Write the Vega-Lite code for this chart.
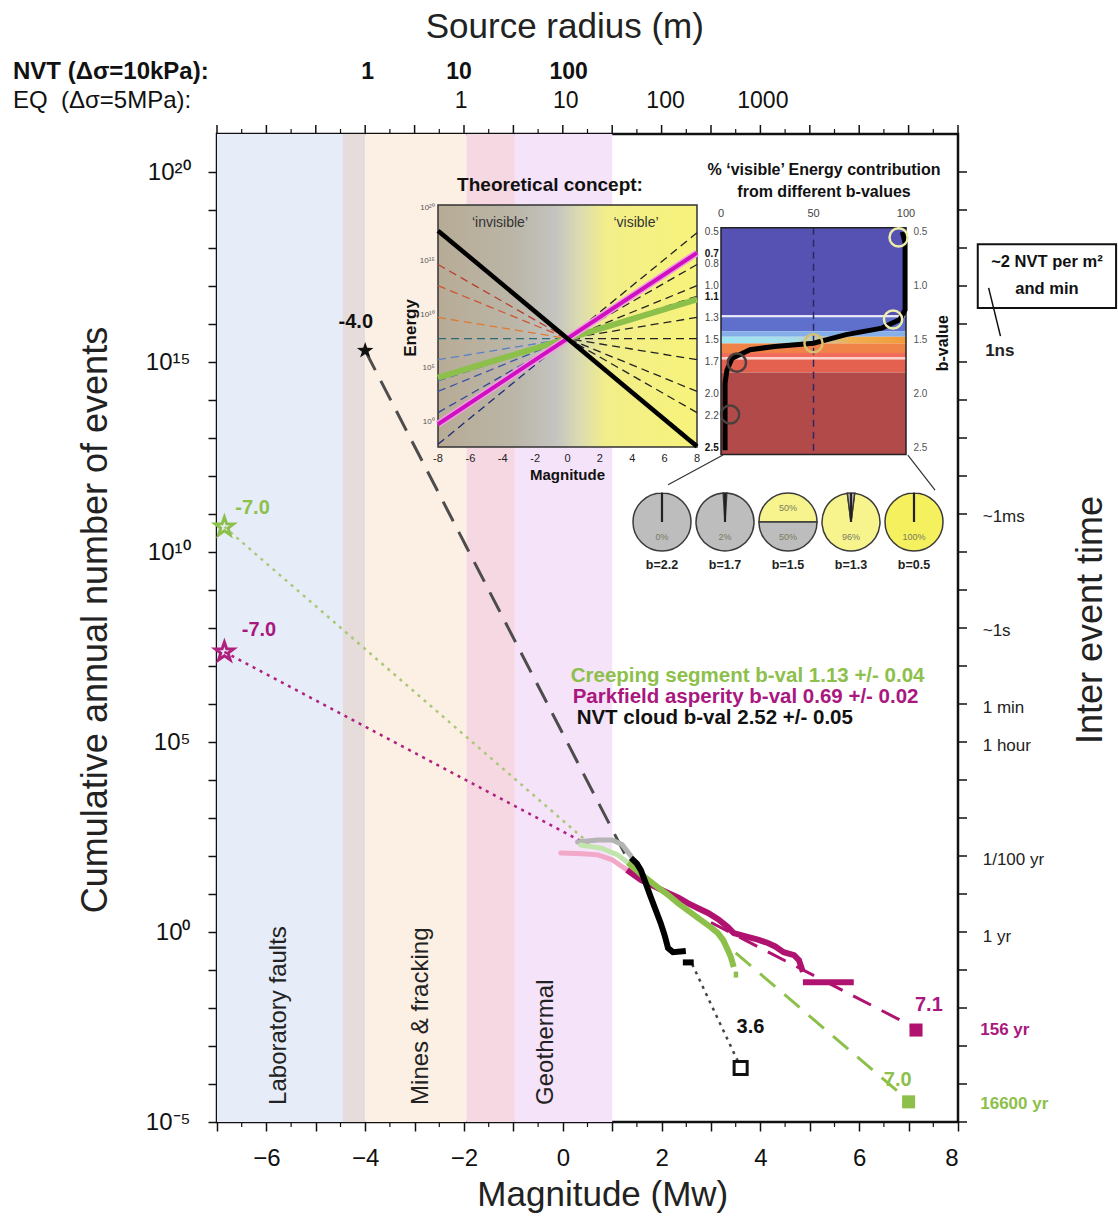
{
"$schema":"https://vega.github.io/schema/vega-lite/v6.json",
"width":741,"height":988,
"autosize":{"type":"none"},
"padding":{"left":217,"top":134,"right":160,"bottom":97},
"background":"white",
"config":{"view":{"stroke":"#111","strokeWidth":2.5},"font":"Liberation Sans","axis":{"grid":false,"domain":false,"tickColor":"#111","labelColor":"#111","titleColor":"#111"}},
"resolve":{"scale":{"x":"independent","y":"independent","color":"independent"},"axis":{"x":"independent","y":"independent"}},
"layer":[
{"data":{"values":[{"zone":"lab","x0":-7,"x1":-4.45},{"zone":"gap","x0":-4.45,"x1":-4.0},{"zone":"mines","x0":-4.0,"x1":-1.95},{"zone":"pink","x0":-1.95,"x1":-0.97},{"zone":"geo","x0":-0.97,"x1":1.0}]},
"mark":{"type":"rect"},
"encoding":{
"x":{"field":"x0","type":"quantitative","scale":{"domain":[-7,8],"nice":false,"zero":false},"axis":{"orient":"bottom","values":[-7,-6,-5,-4,-3,-2,-1,0,1,2,3,4,5,6,7,8],"labelExpr":"abs(datum.value) % 2 == 0 ? datum.label : ''","tickSize":9,"tickWidth":1.5,"labelFontSize":24,"labelPadding":15,"title":null}},
"x2":{"field":"x1"},
"color":{"field":"zone","type":"nominal","scale":{"domain":["lab","gap","mines","pink","geo"],"range":["#e6edf8","#e6dcdc","#fcefe3","#f6d8e2","#f5e3f9"]},"legend":null}}},
{"data":{"values":[{"x":-5.75,"y":-4.55,"t":"Laboratory faults"},{"x":-2.87,"y":-4.55,"t":"Mines & fracking"},{"x":-0.34,"y":-4.55,"t":"Geothermal"}]},
"mark":{"type":"text","angle":270,"align":"left","baseline":"middle","fontSize":24,"color":"#222"},
"encoding":{
"x":{"field":"x","type":"quantitative","scale":{"domain":[-7,8],"nice":false,"zero":false},"axis":null},
"y":{"field":"y","type":"quantitative","scale":{"domain":[-5,21],"nice":false,"zero":false},"axis":{"orient":"left","values":[-5,-4,-3,-2,-1,0,1,2,3,4,5,6,7,8,9,10,11,12,13,14,15,16,17,18,19,20],"labelExpr":"datum.value == 20 ? '10²⁰' : datum.value == 15 ? '10¹⁵' : datum.value == 10 ? '10¹⁰' : datum.value == 5 ? '10⁵' : datum.value == 0 ? '10⁰' : datum.value == -5 ? '10⁻⁵' : ''","tickSize":9,"tickWidth":1.5,"labelFontSize":24,"labelPadding":18,"title":null}},
"text":{"field":"t"}}},
{"data":{"values":[{"x":-6.5,"y":-5},{"x":-5.5,"y":-5},{"x":-4.5,"y":-5},{"x":-3.5,"y":-5},{"x":-2.5,"y":-5},{"x":-1.5,"y":-5},{"x":-0.5,"y":-5},{"x":0.5,"y":-5},{"x":1.5,"y":-5},{"x":2.5,"y":-5},{"x":3.5,"y":-5},{"x":4.5,"y":-5},{"x":5.5,"y":-5},{"x":6.5,"y":-5},{"x":7.5,"y":-5}]},
"mark":{"type":"point","shape":"M0,0L0,1","size":100,"filled":false,"strokeWidth":1.2,"color":"#111","opacity":1},
"encoding":{"x":{"field":"x","type":"quantitative","scale":{"domain":[-7,8],"nice":false,"zero":false},"axis":null},"y":{"field":"y","type":"quantitative","scale":{"domain":[-5,21],"nice":false,"zero":false},"axis":null}}},
{"data":{"values":[{"x":-7,"y":21},{"x":-6,"y":21},{"x":-5,"y":21},{"x":-4,"y":21},{"x":-3,"y":21},{"x":-2,"y":21},{"x":-1,"y":21},{"x":0,"y":21},{"x":1,"y":21},{"x":2,"y":21},{"x":3,"y":21},{"x":4,"y":21},{"x":5,"y":21},{"x":6,"y":21},{"x":7,"y":21},{"x":8,"y":21}]},
"mark":{"type":"point","shape":"M0,0L0,-1","size":324,"filled":false,"strokeWidth":1.5,"color":"#111","opacity":1},
"encoding":{"x":{"field":"x","type":"quantitative","scale":{"domain":[-7,8],"nice":false,"zero":false},"axis":null},"y":{"field":"y","type":"quantitative","scale":{"domain":[-5,21],"nice":false,"zero":false},"axis":null}}},
{"data":{"values":[{"x":-6.5,"y":21},{"x":-5.5,"y":21},{"x":-4.5,"y":21},{"x":-3.5,"y":21},{"x":-2.5,"y":21},{"x":-1.5,"y":21},{"x":-0.5,"y":21},{"x":0.5,"y":21},{"x":1.5,"y":21},{"x":2.5,"y":21},{"x":3.5,"y":21},{"x":4.5,"y":21},{"x":5.5,"y":21},{"x":6.5,"y":21},{"x":7.5,"y":21}]},
"mark":{"type":"point","shape":"M0,0L0,-1","size":100,"filled":false,"strokeWidth":1.2,"color":"#111","opacity":1},
"encoding":{"x":{"field":"x","type":"quantitative","scale":{"domain":[-7,8],"nice":false,"zero":false},"axis":null},"y":{"field":"y","type":"quantitative","scale":{"domain":[-5,21],"nice":false,"zero":false},"axis":null}}},
{"data":{"values":[{"x":8,"y":-5},{"x":8,"y":-4},{"x":8,"y":-3},{"x":8,"y":-2},{"x":8,"y":-1},{"x":8,"y":0},{"x":8,"y":1},{"x":8,"y":2},{"x":8,"y":3},{"x":8,"y":4},{"x":8,"y":5},{"x":8,"y":6},{"x":8,"y":7},{"x":8,"y":8},{"x":8,"y":9},{"x":8,"y":10},{"x":8,"y":11},{"x":8,"y":12},{"x":8,"y":13},{"x":8,"y":14},{"x":8,"y":15},{"x":8,"y":16},{"x":8,"y":17},{"x":8,"y":18},{"x":8,"y":19},{"x":8,"y":20}]},
"mark":{"type":"point","shape":"M0,0L1,0","size":324,"filled":false,"strokeWidth":1.5,"color":"#111","opacity":1},
"encoding":{"x":{"field":"x","type":"quantitative","scale":{"domain":[-7,8],"nice":false,"zero":false},"axis":null},"y":{"field":"y","type":"quantitative","scale":{"domain":[-5,21],"nice":false,"zero":false},"axis":null}}},
{"data":{"values":[{"x":-4.0,"y":15.3,"x2":1.4,"y2":1.69}]},
"mark":{"type":"rule","color":"#4d4d4d","strokeWidth":3,"strokeDash":[22,12]},
"encoding":{"x":{"field":"x","type":"quantitative","scale":{"domain":[-7,8],"nice":false,"zero":false},"axis":null},"y":{"field":"y","type":"quantitative","scale":{"domain":[-5,21],"nice":false,"zero":false},"axis":null},"x2":{"field":"x2"},"y2":{"field":"y2"}}},
{"data":{"values":[{"s":"grn","x":-6.85,"y":10.66,"x2":0.57,"y2":2.29},{"s":"mag","x":-6.85,"y":7.37,"x2":0.5,"y2":2.3},{"s":"blk","x":2.62,"y":-0.85,"x2":3.55,"y2":-3.42}]},
"mark":{"type":"rule","strokeWidth":2.5,"strokeDash":[3,5]},
"encoding":{"x":{"field":"x","type":"quantitative","scale":{"domain":[-7,8],"nice":false,"zero":false},"axis":null},"y":{"field":"y","type":"quantitative","scale":{"domain":[-5,21],"nice":false,"zero":false},"axis":null},"x2":{"field":"x2"},"y2":{"field":"y2"},
"color":{"field":"s","type":"nominal","scale":{"domain":["grn","mag","blk"],"range":["#a9c878","#b0207e","#444444"]},"legend":null}}},
{"data":{"values":[{"s":"mag","x":3.0,"y":0.25,"x2":7.1,"y2":-2.5},{"s":"grn","x":3.5,"y":-0.55,"x2":6.92,"y2":-4.35}]},
"mark":{"type":"rule","strokeWidth":3,"strokeDash":[20,12]},
"encoding":{"x":{"field":"x","type":"quantitative","scale":{"domain":[-7,8],"nice":false,"zero":false},"axis":null},"y":{"field":"y","type":"quantitative","scale":{"domain":[-5,21],"nice":false,"zero":false},"axis":null},"x2":{"field":"x2"},"y2":{"field":"y2"},
"color":{"field":"s","type":"nominal","scale":{"domain":["mag","grn"],"range":["#b0126f","#8dc04b"]},"legend":null}}},
{"data":{"values":[{"i":1,"x":0.3,"y":2.37},{"i":2,"x":0.7,"y":2.42},{"i":3,"x":1.0,"y":2.42},{"i":4,"x":1.2,"y":2.3},{"i":5,"x":1.38,"y":2.0}]},
"mark":{"type":"line","strokeWidth":5,"strokeCap":"round","color":"#b4b4b4"},
"encoding":{"x":{"field":"x","type":"quantitative","scale":{"domain":[-7,8],"nice":false,"zero":false},"axis":null},"y":{"field":"y","type":"quantitative","scale":{"domain":[-5,21],"nice":false,"zero":false},"axis":null},"order":{"field":"i"}}},
{"data":{"values":[{"i":1,"x":-0.04,"y":2.08},{"i":2,"x":0.4,"y":2.06},{"i":3,"x":0.71,"y":2.03},{"i":4,"x":1.0,"y":1.9},{"i":5,"x":1.3,"y":1.63}]},
"mark":{"type":"line","strokeWidth":5,"strokeCap":"round","color":"#f2a8c8"},
"encoding":{"x":{"field":"x","type":"quantitative","scale":{"domain":[-7,8],"nice":false,"zero":false},"axis":null},"y":{"field":"y","type":"quantitative","scale":{"domain":[-5,21],"nice":false,"zero":false},"axis":null},"order":{"field":"i"}}},
{"data":{"values":[{"i":1,"x":0.36,"y":2.29},{"i":2,"x":0.8,"y":2.2},{"i":3,"x":1.11,"y":2.03},{"i":4,"x":1.32,"y":1.82}]},
"mark":{"type":"line","strokeWidth":5,"strokeCap":"round","color":"#c2e4ad"},
"encoding":{"x":{"field":"x","type":"quantitative","scale":{"domain":[-7,8],"nice":false,"zero":false},"axis":null},"y":{"field":"y","type":"quantitative","scale":{"domain":[-5,21],"nice":false,"zero":false},"axis":null},"order":{"field":"i"}}},
{"data":{"values":[{"i":1,"x":1.3,"y":1.63},{"i":2,"x":1.58,"y":1.37},{"i":3,"x":1.85,"y":1.2},{"i":4,"x":2.13,"y":1.03},{"i":5,"x":2.35,"y":0.9},{"i":6,"x":2.53,"y":0.76},{"i":7,"x":2.75,"y":0.62},{"i":8,"x":2.94,"y":0.5},{"i":9,"x":3.15,"y":0.33},{"i":10,"x":3.34,"y":0.13},{"i":11,"x":3.46,"y":-0.03},{"i":12,"x":3.74,"y":-0.13},{"i":13,"x":3.95,"y":-0.2},{"i":14,"x":4.15,"y":-0.29},{"i":15,"x":4.3,"y":-0.38},{"i":16,"x":4.47,"y":-0.53},{"i":17,"x":4.68,"y":-0.61},{"i":18,"x":4.78,"y":-0.74},{"i":19,"x":4.86,"y":-1.05}]},
"mark":{"type":"line","strokeWidth":6,"color":"#b0126f"},
"encoding":{"x":{"field":"x","type":"quantitative","scale":{"domain":[-7,8],"nice":false,"zero":false},"axis":null},"y":{"field":"y","type":"quantitative","scale":{"domain":[-5,21],"nice":false,"zero":false},"axis":null},"order":{"field":"i"}}},
{"data":{"values":[{"x":4.86,"y":-1.32,"x2":5.89,"y2":-1.32}]},
"mark":{"type":"rule","strokeWidth":6,"color":"#b0126f"},
"encoding":{"x":{"field":"x","type":"quantitative","scale":{"domain":[-7,8],"nice":false,"zero":false},"axis":null},"y":{"field":"y","type":"quantitative","scale":{"domain":[-5,21],"nice":false,"zero":false},"axis":null},"x2":{"field":"x2"},"y2":{"field":"y2"}}},
{"data":{"values":[{"i":1,"x":1.32,"y":1.82},{"i":2,"x":1.6,"y":1.5},{"i":3,"x":1.92,"y":1.18},{"i":4,"x":2.13,"y":0.98},{"i":5,"x":2.33,"y":0.76},{"i":6,"x":2.55,"y":0.55},{"i":7,"x":2.79,"y":0.32},{"i":8,"x":3.0,"y":0.12},{"i":9,"x":3.14,"y":-0.03},{"i":10,"x":3.25,"y":-0.22},{"i":11,"x":3.34,"y":-0.47},{"i":12,"x":3.4,"y":-0.65},{"i":13,"x":3.46,"y":-0.92}]},
"mark":{"type":"line","strokeWidth":6,"color":"#8dc04b"},
"encoding":{"x":{"field":"x","type":"quantitative","scale":{"domain":[-7,8],"nice":false,"zero":false},"axis":null},"y":{"field":"y","type":"quantitative","scale":{"domain":[-5,21],"nice":false,"zero":false},"axis":null},"order":{"field":"i"}}},
{"data":{"values":[{"x":3.46,"y":-1.12,"x2":3.55,"y2":-1.12}]},
"mark":{"type":"rule","strokeWidth":6,"color":"#8dc04b"},
"encoding":{"x":{"field":"x","type":"quantitative","scale":{"domain":[-7,8],"nice":false,"zero":false},"axis":null},"y":{"field":"y","type":"quantitative","scale":{"domain":[-5,21],"nice":false,"zero":false},"axis":null},"x2":{"field":"x2"},"y2":{"field":"y2"}}},
{"data":{"values":[{"i":1,"x":1.38,"y":1.95},{"i":2,"x":1.5,"y":1.8},{"i":3,"x":1.58,"y":1.63},{"i":4,"x":1.68,"y":1.28},{"i":5,"x":1.78,"y":0.92},{"i":6,"x":1.88,"y":0.58},{"i":7,"x":1.98,"y":0.24},{"i":8,"x":2.06,"y":-0.08},{"i":9,"x":2.13,"y":-0.42},{"i":10,"x":2.23,"y":-0.53},{"i":11,"x":2.49,"y":-0.5}]},
"mark":{"type":"line","strokeWidth":6,"color":"#000"},
"encoding":{"x":{"field":"x","type":"quantitative","scale":{"domain":[-7,8],"nice":false,"zero":false},"axis":null},"y":{"field":"y","type":"quantitative","scale":{"domain":[-5,21],"nice":false,"zero":false},"axis":null},"order":{"field":"i"}}},
{"data":{"values":[{"x":2.43,"y":-0.8,"x2":2.65,"y2":-0.8}]},
"mark":{"type":"rule","strokeWidth":6,"color":"#000"},
"encoding":{"x":{"field":"x","type":"quantitative","scale":{"domain":[-7,8],"nice":false,"zero":false},"axis":null},"y":{"field":"y","type":"quantitative","scale":{"domain":[-5,21],"nice":false,"zero":false},"axis":null},"x2":{"field":"x2"},"y2":{"field":"y2"}}},
{"data":{"values":[{"x":-4.0,"y":15.3}]},
"mark":{"type":"point","shape":"M0,-1L0.235,-0.324L0.951,-0.309L0.38,0.124L0.588,0.809L0,0.4L-0.588,0.809L-0.38,0.124L-0.951,-0.309L-0.235,-0.324Z","filled":true,"color":"#111","size":300,"opacity":1},
"encoding":{"x":{"field":"x","type":"quantitative","scale":{"domain":[-7,8],"nice":false,"zero":false},"axis":null},"y":{"field":"y","type":"quantitative","scale":{"domain":[-5,21],"nice":false,"zero":false},"axis":null}}},
{"data":{"values":[{"s":"grn","x":-6.85,"y":10.66},{"s":"mag","x":-6.85,"y":7.37}]},
"mark":{"type":"point","shape":"M0,-1L0.235,-0.324L0.951,-0.309L0.38,0.124L0.588,0.809L0,0.4L-0.588,0.809L-0.38,0.124L-0.951,-0.309L-0.235,-0.324Z","filled":false,"strokeWidth":3,"size":380,"opacity":1},
"encoding":{"x":{"field":"x","type":"quantitative","scale":{"domain":[-7,8],"nice":false,"zero":false},"axis":null},"y":{"field":"y","type":"quantitative","scale":{"domain":[-5,21],"nice":false,"zero":false},"axis":null},
"color":{"field":"s","type":"nominal","scale":{"domain":["grn","mag"],"range":["#8dc04b","#b0207e"]},"legend":null}}},
{"data":{"values":[{"s":"mag","x":7.15,"y":-2.58},{"s":"grn","x":7.0,"y":-4.47}]},
"mark":{"type":"point","shape":"square","filled":true,"size":170,"opacity":1},
"encoding":{"x":{"field":"x","type":"quantitative","scale":{"domain":[-7,8],"nice":false,"zero":false},"axis":null},"y":{"field":"y","type":"quantitative","scale":{"domain":[-5,21],"nice":false,"zero":false},"axis":null},
"color":{"field":"s","type":"nominal","scale":{"domain":["mag","grn"],"range":["#b0126f","#8dc04b"]},"legend":null}}},
{"data":{"values":[{"x":3.6,"y":-3.58}]},
"mark":{"type":"point","shape":"square","filled":false,"strokeWidth":3,"color":"#111","size":170,"opacity":1},
"encoding":{"x":{"field":"x","type":"quantitative","scale":{"domain":[-7,8],"nice":false,"zero":false},"axis":null},"y":{"field":"y","type":"quantitative","scale":{"domain":[-5,21],"nice":false,"zero":false},"axis":null}}},
{"data":{"values":[{"k":"blk","x":-4.19,"y":16.05,"t":"-4.0"},{"k":"blk","x":3.8,"y":-2.5,"t":"3.6"},{"k":"grn","x":-6.28,"y":11.16,"t":"-7.0"},{"k":"mag","x":-6.15,"y":7.95,"t":"-7.0"},{"k":"mag","x":7.41,"y":-1.92,"t":"7.1"},{"k":"grn","x":6.78,"y":-3.89,"t":"7.0"}]},
"mark":{"type":"text","fontSize":20,"fontWeight":"bold","align":"center","baseline":"middle"},
"encoding":{"x":{"field":"x","type":"quantitative","scale":{"domain":[-7,8],"nice":false,"zero":false},"axis":null},"y":{"field":"y","type":"quantitative","scale":{"domain":[-5,21],"nice":false,"zero":false},"axis":null},"text":{"field":"t"},
"color":{"field":"k","type":"nominal","scale":{"domain":["blk","grn","mag"],"range":["#111111","#8dc04b","#a9177f"]},"legend":null}}},
{"data":{"values":[{"k":"grn","x":0.16,"y":6.74,"t":"Creeping segment b-val 1.13 +/- 0.04"},{"k":"mag","x":0.2,"y":6.18,"t":"Parkfield asperity b-val 0.69 +/- 0.02"},{"k":"blk","x":0.28,"y":5.63,"t":"NVT cloud b-val 2.52 +/- 0.05"}]},
"mark":{"type":"text","fontSize":20.5,"fontWeight":"bold","align":"left","baseline":"middle"},
"encoding":{"x":{"field":"x","type":"quantitative","scale":{"domain":[-7,8],"nice":false,"zero":false},"axis":null},"y":{"field":"y","type":"quantitative","scale":{"domain":[-5,21],"nice":false,"zero":false},"axis":null},"text":{"field":"t"},
"color":{"field":"k","type":"nominal","scale":{"domain":["blk","grn","mag"],"range":["#111111","#8dc04b","#a9177f"]},"legend":null}}},
{"data":{"values":[{"x":0.04,"y":23.82,"t":"Source radius (m)"},{"x":0.81,"y":-6.92,"t":"Magnitude (Mw)"}]},
"mark":{"type":"text","fontSize":35,"align":"center","baseline":"middle","color":"#222"},
"encoding":{"x":{"field":"x","type":"quantitative","scale":{"domain":[-7,8],"nice":false,"zero":false},"axis":null},"y":{"field":"y","type":"quantitative","scale":{"domain":[-5,21],"nice":false,"zero":false},"axis":null},"text":{"field":"t"}}},
{"data":{"values":[{"x":10.69,"y":8.21,"t":"Inter event time"},{"x":-9.45,"y":8.21,"t":"Cumulative annual number of events"}]},
"mark":{"type":"text","fontSize":36,"angle":270,"align":"center","baseline":"middle","color":"#222"},
"encoding":{"x":{"field":"x","type":"quantitative","scale":{"domain":[-7,8],"nice":false,"zero":false},"axis":null},"y":{"field":"y","type":"quantitative","scale":{"domain":[-5,21],"nice":false,"zero":false},"axis":null},"text":{"field":"t"}}},
{"data":{"values":[{"x":-11.13,"y":22.63,"t":"NVT (Δσ=10kPa):"}]},
"mark":{"type":"text","fontSize":24,"fontWeight":"bold","align":"left","baseline":"middle","color":"#111"},
"encoding":{"x":{"field":"x","type":"quantitative","scale":{"domain":[-7,8],"nice":false,"zero":false},"axis":null},"y":{"field":"y","type":"quantitative","scale":{"domain":[-5,21],"nice":false,"zero":false},"axis":null},"text":{"field":"t"}}},
{"data":{"values":[{"x":-11.13,"y":21.87,"t":"EQ\u00a0\u00a0(Δσ=5MPa):"}]},
"mark":{"type":"text","fontSize":24,"align":"left","baseline":"middle","color":"#111"},
"encoding":{"x":{"field":"x","type":"quantitative","scale":{"domain":[-7,8],"nice":false,"zero":false},"axis":null},"y":{"field":"y","type":"quantitative","scale":{"domain":[-5,21],"nice":false,"zero":false},"axis":null},"text":{"field":"t"}}},
{"data":{"values":[{"x":-3.95,"y":22.63,"t":"1"},{"x":-2.1,"y":22.63,"t":"10"},{"x":0.12,"y":22.63,"t":"100"}]},
"mark":{"type":"text","fontSize":23,"fontWeight":"bold","align":"center","baseline":"middle","color":"#111"},
"encoding":{"x":{"field":"x","type":"quantitative","scale":{"domain":[-7,8],"nice":false,"zero":false},"axis":null},"y":{"field":"y","type":"quantitative","scale":{"domain":[-5,21],"nice":false,"zero":false},"axis":null},"text":{"field":"t"}}},
{"data":{"values":[{"x":-2.06,"y":21.87,"t":"1"},{"x":0.06,"y":21.87,"t":"10"},{"x":2.08,"y":21.87,"t":"100"},{"x":4.05,"y":21.87,"t":"1000"}]},
"mark":{"type":"text","fontSize":23,"align":"center","baseline":"middle","color":"#111"},
"encoding":{"x":{"field":"x","type":"quantitative","scale":{"domain":[-7,8],"nice":false,"zero":false},"axis":null},"y":{"field":"y","type":"quantitative","scale":{"domain":[-5,21],"nice":false,"zero":false},"axis":null},"text":{"field":"t"}}},
{"data":{"values":[{"x":8.5,"y":10.92,"t":"~1ms"},{"x":8.5,"y":7.92,"t":"~1s"},{"x":8.5,"y":5.89,"t":"1 min"},{"x":8.5,"y":4.89,"t":"1 hour"},{"x":8.5,"y":1.89,"t":"1/100 yr"},{"x":8.5,"y":-0.13,"t":"1 yr"}]},
"mark":{"type":"text","fontSize":17,"font":"Liberation Sans Narrow, Liberation Sans, sans-serif","align":"left","baseline":"middle","color":"#222"},
"encoding":{"x":{"field":"x","type":"quantitative","scale":{"domain":[-7,8],"nice":false,"zero":false},"axis":null},"y":{"field":"y","type":"quantitative","scale":{"domain":[-5,21],"nice":false,"zero":false},"axis":null},"text":{"field":"t"}}},
{"data":{"values":[{"k":"blk","x":8.55,"y":15.3,"t":"1ns"},{"k":"mag","x":8.45,"y":-2.58,"t":"156 yr"},{"k":"grn","x":8.45,"y":-4.53,"t":"16600 yr"}]},
"mark":{"type":"text","fontSize":17,"fontWeight":"bold","font":"Liberation Sans Narrow, Liberation Sans, sans-serif","align":"left","baseline":"middle"},
"encoding":{"x":{"field":"x","type":"quantitative","scale":{"domain":[-7,8],"nice":false,"zero":false},"axis":null},"y":{"field":"y","type":"quantitative","scale":{"domain":[-5,21],"nice":false,"zero":false},"axis":null},"text":{"field":"t"},
"color":{"field":"k","type":"nominal","scale":{"domain":["blk","grn","mag"],"range":["#222222","#8dc04b","#a9177f"]},"legend":null}}},
{"data":{"values":[{"x0":8.4,"x1":11.2,"y0":16.42,"y1":18.1}]},
"mark":{"type":"rect","fill":"white","stroke":"#111","strokeWidth":2},
"encoding":{"x":{"field":"x0","type":"quantitative","scale":{"domain":[-7,8],"nice":false,"zero":false},"axis":null},"x2":{"field":"x1"},"y":{"field":"y0","type":"quantitative","scale":{"domain":[-5,21],"nice":false,"zero":false},"axis":null},"y2":{"field":"y1"}}},
{"data":{"values":[{"x":9.8,"y":17.62,"t":"~2 NVT per m²"},{"x":9.8,"y":16.92,"t":"and min"}]},
"mark":{"type":"text","fontSize":16.5,"fontWeight":"bold","align":"center","baseline":"middle","color":"#111"},
"encoding":{"x":{"field":"x","type":"quantitative","scale":{"domain":[-7,8],"nice":false,"zero":false},"axis":null},"y":{"field":"y","type":"quantitative","scale":{"domain":[-5,21],"nice":false,"zero":false},"axis":null},"text":{"field":"t"}}},
{"data":{"values":[{"x":8.62,"y":16.95,"x2":8.86,"y2":15.68}]},
"mark":{"type":"rule","color":"#111","strokeWidth":1.5},
"encoding":{"x":{"field":"x","type":"quantitative","scale":{"domain":[-7,8],"nice":false,"zero":false},"axis":null},"x2":{"field":"x2"},"y":{"field":"y","type":"quantitative","scale":{"domain":[-5,21],"nice":false,"zero":false},"axis":null},"y2":{"field":"y2"}}},

{"data":{"values":[{"x0":-8,"x1":8,"y0":-8.2,"y1":10.1}]},
"mark":{"type":"rect","fill":{"gradient":"linear","x1":0,"y1":0,"x2":1,"y2":0,"stops":[{"offset":0,"color":"#b7ab95"},{"offset":0.3,"color":"#bbb6a8"},{"offset":0.45,"color":"#c3c3c0"},{"offset":0.55,"color":"#dcdcb0"},{"offset":0.65,"color":"#f2ee8a"},{"offset":1,"color":"#f7f37a"}]},"stroke":"#333","strokeWidth":1.5},
"encoding":{"x":{"field":"x0","type":"quantitative","scale":{"domain":[-8,8],"range":[221,480],"nice":false,"zero":false},"axis":null},"x2":{"field":"x1"},"y":{"field":"y0","type":"quantitative","scale":{"domain":[-8.2,10.1],"range":[313,71],"nice":false,"zero":false},"axis":null},"y2":{"field":"y1"}}},
{"data":{"values":[{"b":"0.5","M":-8,"E":-8},{"b":"0.7","M":-8,"E":-6.4},{"b":"0.8","M":-8,"E":-5.6},{"b":"1.0","M":-8,"E":-4},{"b":"1.1","M":-8,"E":-3.2},{"b":"1.3","M":-8,"E":-1.6},{"b":"1.5","M":-8,"E":0},{"b":"1.7","M":-8,"E":1.6},{"b":"2.0","M":-8,"E":4},{"b":"2.2","M":-8,"E":5.6},{"b":"2.5","M":-8,"E":8}]},
"mark":{"type":"rule","strokeWidth":1.3,"strokeDash":[8,5]},
"encoding":{"x":{"field":"M","type":"quantitative","scale":{"domain":[-8,8],"range":[221,480],"nice":false,"zero":false},"axis":null},"y":{"field":"E","type":"quantitative","scale":{"domain":[-8.2,10.1],"range":[313,71],"nice":false,"zero":false},"axis":null},"x2":{"datum":0},"y2":{"datum":0},
"color":{"field":"b","type":"nominal","scale":{"domain":["0.5","0.7","0.8","1.0","1.1","1.3","1.5","1.7","2.0","2.2","2.5"],"range":["#1e2a78","#2a3a8a","#33449a","#3a55aa","#4a66b8","#5a80c8","#2a6a7a","#e07a30","#d05530","#b84030","#a03030"]},"legend":null}}},
{"data":{"values":[{"b":"0.5","M":8,"E":8},{"b":"0.7","M":8,"E":6.4},{"b":"0.8","M":8,"E":5.6},{"b":"1.0","M":8,"E":4},{"b":"1.1","M":8,"E":3.2},{"b":"1.3","M":8,"E":1.6},{"b":"1.5","M":8,"E":0},{"b":"1.7","M":8,"E":-1.6},{"b":"2.0","M":8,"E":-4},{"b":"2.2","M":8,"E":-5.6},{"b":"2.5","M":8,"E":-8}]},
"mark":{"type":"rule","strokeWidth":1.3,"strokeDash":[8,5],"color":"#222"},
"encoding":{"x":{"field":"M","type":"quantitative","scale":{"domain":[-8,8],"range":[221,480],"nice":false,"zero":false},"axis":null},"y":{"field":"E","type":"quantitative","scale":{"domain":[-8.2,10.1],"range":[313,71],"nice":false,"zero":false},"axis":null},"x2":{"datum":0},"y2":{"datum":0}}},
{"data":{"values":[{"M":-8,"E":-2.96,"M2":8,"E2":2.96}]},
"mark":{"type":"rule","strokeWidth":6,"color":"#8dc04b"},
"encoding":{"x":{"field":"M","type":"quantitative","scale":{"domain":[-8,8],"range":[221,480],"nice":false,"zero":false},"axis":null},"y":{"field":"E","type":"quantitative","scale":{"domain":[-8.2,10.1],"range":[313,71],"nice":false,"zero":false},"axis":null},"x2":{"field":"M2"},"y2":{"field":"E2"}}},
{"data":{"values":[{"M":-8,"E":-6.48,"M2":8,"E2":6.48}]},
"mark":{"type":"rule","strokeWidth":7,"color":"#f0a0e0"},
"encoding":{"x":{"field":"M","type":"quantitative","scale":{"domain":[-8,8],"range":[221,480],"nice":false,"zero":false},"axis":null},"y":{"field":"E","type":"quantitative","scale":{"domain":[-8.2,10.1],"range":[313,71],"nice":false,"zero":false},"axis":null},"x2":{"field":"M2"},"y2":{"field":"E2"}}},
{"data":{"values":[{"M":-8,"E":-6.48,"M2":8,"E2":6.48}]},
"mark":{"type":"rule","strokeWidth":4,"color":"#d010c0"},
"encoding":{"x":{"field":"M","type":"quantitative","scale":{"domain":[-8,8],"range":[221,480],"nice":false,"zero":false},"axis":null},"y":{"field":"E","type":"quantitative","scale":{"domain":[-8.2,10.1],"range":[313,71],"nice":false,"zero":false},"axis":null},"x2":{"field":"M2"},"y2":{"field":"E2"}}},
{"data":{"values":[{"M":-8,"E":8.16,"M2":8,"E2":-8.16}]},
"mark":{"type":"rule","strokeWidth":4.5,"color":"#000"},
"encoding":{"x":{"field":"M","type":"quantitative","scale":{"domain":[-8,8],"range":[221,480],"nice":false,"zero":false},"axis":null},"y":{"field":"E","type":"quantitative","scale":{"domain":[-8.2,10.1],"range":[313,71],"nice":false,"zero":false},"axis":null},"x2":{"field":"M2"},"y2":{"field":"E2"}}},
{"data":{"values":[{"M":-4.17,"E":8.74,"t":"‘invisible’"},{"M":4.23,"E":8.74,"t":"‘visible’"}]},
"mark":{"type":"text","fontSize":14,"color":"#333","align":"center","baseline":"middle"},
"encoding":{"x":{"field":"M","type":"quantitative","scale":{"domain":[-8,8],"range":[221,480],"nice":false,"zero":false},"axis":null},"y":{"field":"E","type":"quantitative","scale":{"domain":[-8.2,10.1],"range":[313,71],"nice":false,"zero":false},"axis":null},"text":{"field":"t"}}},
{"data":{"values":[{"M":-1.08,"E":11.62,"t":"Theoretical concept:"}]},
"mark":{"type":"text","fontSize":19,"fontWeight":"bold","color":"#111","align":"center","baseline":"middle"},
"encoding":{"x":{"field":"M","type":"quantitative","scale":{"domain":[-8,8],"range":[221,480],"nice":false,"zero":false},"axis":null},"y":{"field":"E","type":"quantitative","scale":{"domain":[-8.2,10.1],"range":[313,71],"nice":false,"zero":false},"axis":null},"text":{"field":"t"}}},
{"data":{"values":[{"M":0,"E":-10.3,"t":"Magnitude"}]},
"mark":{"type":"text","fontSize":15,"fontWeight":"bold","color":"#111","align":"center","baseline":"middle"},
"encoding":{"x":{"field":"M","type":"quantitative","scale":{"domain":[-8,8],"range":[221,480],"nice":false,"zero":false},"axis":null},"y":{"field":"E","type":"quantitative","scale":{"domain":[-8.2,10.1],"range":[313,71],"nice":false,"zero":false},"axis":null},"text":{"field":"t"}}},
{"data":{"values":[{"M":-9.67,"E":0.8,"t":"Energy"}]},
"mark":{"type":"text","fontSize":17,"fontWeight":"bold","color":"#111","angle":270,"align":"center","baseline":"middle"},
"encoding":{"x":{"field":"M","type":"quantitative","scale":{"domain":[-8,8],"range":[221,480],"nice":false,"zero":false},"axis":null},"y":{"field":"E","type":"quantitative","scale":{"domain":[-8.2,10.1],"range":[313,71],"nice":false,"zero":false},"axis":null},"text":{"field":"t"}}},
{"data":{"values":[{"M":-8,"E":-9.1,"t":"-8"},{"M":-6,"E":-9.1,"t":"-6"},{"M":-4,"E":-9.1,"t":"-4"},{"M":-2,"E":-9.1,"t":"-2"},{"M":0,"E":-9.1,"t":"0"},{"M":2,"E":-9.1,"t":"2"},{"M":4,"E":-9.1,"t":"4"},{"M":6,"E":-9.1,"t":"6"},{"M":8,"E":-9.1,"t":"8"}]},
"mark":{"type":"text","fontSize":11,"color":"#222","align":"center","baseline":"middle"},
"encoding":{"x":{"field":"M","type":"quantitative","scale":{"domain":[-8,8],"range":[221,480],"nice":false,"zero":false},"axis":null},"y":{"field":"E","type":"quantitative","scale":{"domain":[-8.2,10.1],"range":[313,71],"nice":false,"zero":false},"axis":null},"text":{"field":"t"}}},
{"data":{"values":[{"M":-8.2,"E":9.9,"t":"10²⁰"},{"M":-8.2,"E":5.9,"t":"10¹⁵"},{"M":-8.2,"E":1.8,"t":"10¹⁰"},{"M":-8.2,"E":-2.2,"t":"10⁵"},{"M":-8.2,"E":-6.3,"t":"10⁰"}]},
"mark":{"type":"text","fontSize":8,"color":"#555","align":"right","baseline":"middle"},
"encoding":{"x":{"field":"M","type":"quantitative","scale":{"domain":[-8,8],"range":[221,480],"nice":false,"zero":false},"axis":null},"y":{"field":"E","type":"quantitative","scale":{"domain":[-8.2,10.1],"range":[313,71],"nice":false,"zero":false},"axis":null},"text":{"field":"t"}}},

{"data":{"values":[{"z":"A","b0":0.46,"b1":1.27,"x0":0,"x1":100},{"z":"W","b0":1.27,"b1":1.29,"x0":0,"x1":100},{"z":"B","b0":1.29,"b1":1.42,"x0":0,"x1":100},{"z":"C","b0":1.42,"b1":1.47,"x0":0,"x1":100},{"z":"E","b0":1.53,"b1":1.62,"x0":0,"x1":100},{"z":"F","b0":1.62,"b1":1.66,"x0":0,"x1":100},{"z":"W2","b0":1.66,"b1":1.68,"x0":0,"x1":100},{"z":"G","b0":1.68,"b1":1.8,"x0":0,"x1":100},{"z":"H","b0":1.8,"b1":2.56,"x0":0,"x1":100}]},
"mark":{"type":"rect"},
"encoding":{"x":{"field":"x0","type":"quantitative","scale":{"domain":[0,100],"range":[504,689],"nice":false,"zero":false},"axis":null},"x2":{"field":"x1"},
"y":{"field":"b0","type":"quantitative","scale":{"domain":[0.5,2.5],"range":[98,314],"nice":false,"zero":false},"axis":null},"y2":{"field":"b1"},
"color":{"field":"z","type":"nominal","scale":{"domain":["A","W","B","C","E","F","W2","G","H"],"range":["#5552b3","#e8e8f8","#5f6fcc","#86aee8","#f08448","#f26c5c","#fbd0c8","#e4604f","#b34a4a"]},"legend":null}}},
{"data":{"values":[{"x0":0,"x1":100,"b0":1.47,"b1":1.53}]},
"mark":{"type":"rect","fill":{"gradient":"linear","x1":0,"y1":0,"x2":1,"y2":0,"stops":[{"offset":0,"color":"#9fe4f2"},{"offset":0.4,"color":"#a8dde8"},{"offset":0.7,"color":"#f0b050"},{"offset":1,"color":"#f09a38"}]}},
"encoding":{"x":{"field":"x0","type":"quantitative","scale":{"domain":[0,100],"range":[504,689],"nice":false,"zero":false},"axis":null},"x2":{"field":"x1"},"y":{"field":"b0","type":"quantitative","scale":{"domain":[0.5,2.5],"range":[98,314],"nice":false,"zero":false},"axis":null},"y2":{"field":"b1"}}},
{"data":{"values":[{"x":50,"b0":0.46,"b1":2.56}]},
"mark":{"type":"rule","color":"#2a2a60","strokeWidth":1.5,"strokeDash":[7,5]},
"encoding":{"x":{"field":"x","type":"quantitative","scale":{"domain":[0,100],"range":[504,689],"nice":false,"zero":false},"axis":null},"y":{"field":"b0","type":"quantitative","scale":{"domain":[0.5,2.5],"range":[98,314],"nice":false,"zero":false},"axis":null},"y2":{"field":"b1"}}},
{"data":{"values":[{"x0":0,"x1":100,"b0":0.46,"b1":2.56}]},
"mark":{"type":"rect","fill":"transparent","stroke":"#222","strokeWidth":1.5},
"encoding":{"x":{"field":"x0","type":"quantitative","scale":{"domain":[0,100],"range":[504,689],"nice":false,"zero":false},"axis":null},"x2":{"field":"x1"},"y":{"field":"b0","type":"quantitative","scale":{"domain":[0.5,2.5],"range":[98,314],"nice":false,"zero":false},"axis":null},"y2":{"field":"b1"}}},
{"data":{"values":[{"i":1,"x":98,"b":0.5},{"i":2,"x":99.5,"b":0.6},{"i":3,"x":99.5,"b":1.22},{"i":4,"x":96.7,"b":1.31},{"i":5,"x":87,"b":1.39},{"i":6,"x":67.6,"b":1.45},{"i":7,"x":50,"b":1.53},{"i":8,"x":29,"b":1.56},{"i":9,"x":15.7,"b":1.59},{"i":10,"x":6,"b":1.67},{"i":11,"x":3.2,"b":1.78},{"i":12,"x":2.2,"b":1.9},{"i":13,"x":2.2,"b":2.52}]},
"mark":{"type":"line","strokeWidth":5,"color":"#000"},
"encoding":{"x":{"field":"x","type":"quantitative","scale":{"domain":[0,100],"range":[504,689],"nice":false,"zero":false},"axis":null},"y":{"field":"b","type":"quantitative","scale":{"domain":[0.5,2.5],"range":[98,314],"nice":false,"zero":false},"axis":null},"order":{"field":"i"}}},
{"data":{"values":[{"x":96,"b":0.55,"k":"y"},{"x":93,"b":1.31,"k":"y"},{"x":50,"b":1.53,"k":"o"},{"x":8.6,"b":1.71,"k":"d"},{"x":4.9,"b":2.19,"k":"d"}]},
"mark":{"type":"point","filled":false,"strokeWidth":2.5,"size":330,"opacity":1},
"encoding":{"x":{"field":"x","type":"quantitative","scale":{"domain":[0,100],"range":[504,689],"nice":false,"zero":false},"axis":null},"y":{"field":"b","type":"quantitative","scale":{"domain":[0.5,2.5],"range":[98,314],"nice":false,"zero":false},"axis":null},
"color":{"field":"k","type":"nominal","scale":{"domain":["y","o","d"],"range":["#eeeeaa","#d8c070","#4a4040"]},"legend":null}}},
{"data":{"values":[{"x":55.7,"b":-0.074,"t":"% ‘visible’ Energy contribution"},{"x":55.7,"b":0.13,"t":"from different b-values"}]},
"mark":{"type":"text","fontSize":16,"fontWeight":"bold","color":"#111","align":"center","baseline":"middle"},
"encoding":{"x":{"field":"x","type":"quantitative","scale":{"domain":[0,100],"range":[504,689],"nice":false,"zero":false},"axis":null},"y":{"field":"b","type":"quantitative","scale":{"domain":[0.5,2.5],"range":[98,314],"nice":false,"zero":false},"axis":null},"text":{"field":"t"}}},
{"data":{"values":[{"x":120,"b":1.53,"t":"b-value"}]},
"mark":{"type":"text","fontSize":16,"fontWeight":"bold","color":"#111","angle":270,"align":"center","baseline":"middle"},
"encoding":{"x":{"field":"x","type":"quantitative","scale":{"domain":[0,100],"range":[504,689],"nice":false,"zero":false},"axis":null},"y":{"field":"b","type":"quantitative","scale":{"domain":[0.5,2.5],"range":[98,314],"nice":false,"zero":false},"axis":null},"text":{"field":"t"}}},
{"data":{"values":[{"x":0,"b":0.33,"t":"0"},{"x":50,"b":0.33,"t":"50"},{"x":100,"b":0.33,"t":"100"}]},
"mark":{"type":"text","fontSize":11,"color":"#444","align":"center","baseline":"middle"},
"encoding":{"x":{"field":"x","type":"quantitative","scale":{"domain":[0,100],"range":[504,689],"nice":false,"zero":false},"axis":null},"y":{"field":"b","type":"quantitative","scale":{"domain":[0.5,2.5],"range":[98,314],"nice":false,"zero":false},"axis":null},"text":{"field":"t"}}},
{"data":{"values":[{"x":-1.2,"b":0.5,"t":"0.5"},{"x":-1.2,"b":0.8,"t":"0.8"},{"x":-1.2,"b":1.0,"t":"1.0"},{"x":-1.2,"b":1.3,"t":"1.3"},{"x":-1.2,"b":1.5,"t":"1.5"},{"x":-1.2,"b":1.7,"t":"1.7"},{"x":-1.2,"b":2.0,"t":"2.0"},{"x":-1.2,"b":2.2,"t":"2.2"}]},
"mark":{"type":"text","fontSize":10,"color":"#444","align":"right","baseline":"middle"},
"encoding":{"x":{"field":"x","type":"quantitative","scale":{"domain":[0,100],"range":[504,689],"nice":false,"zero":false},"axis":null},"y":{"field":"b","type":"quantitative","scale":{"domain":[0.5,2.5],"range":[98,314],"nice":false,"zero":false},"axis":null},"text":{"field":"t"}}},
{"data":{"values":[{"x":-1.2,"b":0.7,"t":"0.7"},{"x":-1.2,"b":1.1,"t":"1.1"},{"x":-1.2,"b":2.5,"t":"2.5"}]},
"mark":{"type":"text","fontSize":10,"fontWeight":"bold","color":"#111","align":"right","baseline":"middle"},
"encoding":{"x":{"field":"x","type":"quantitative","scale":{"domain":[0,100],"range":[504,689],"nice":false,"zero":false},"axis":null},"y":{"field":"b","type":"quantitative","scale":{"domain":[0.5,2.5],"range":[98,314],"nice":false,"zero":false},"axis":null},"text":{"field":"t"}}},
{"data":{"values":[{"x":104,"b":0.5,"t":"0.5"},{"x":104,"b":1.0,"t":"1.0"},{"x":104,"b":1.5,"t":"1.5"},{"x":104,"b":2.0,"t":"2.0"},{"x":104,"b":2.5,"t":"2.5"}]},
"mark":{"type":"text","fontSize":10,"color":"#555","align":"left","baseline":"middle"},
"encoding":{"x":{"field":"x","type":"quantitative","scale":{"domain":[0,100],"range":[504,689],"nice":false,"zero":false},"axis":null},"y":{"field":"b","type":"quantitative","scale":{"domain":[0.5,2.5],"range":[98,314],"nice":false,"zero":false},"axis":null},"text":{"field":"t"}}},
{"data":{"values":[{"x":1.1,"b":2.565,"x2":-28.6,"b2":2.84},{"x":101,"b":2.565,"x2":115.7,"b2":2.89}]},
"mark":{"type":"rule","color":"#333","strokeWidth":1.2},
"encoding":{"x":{"field":"x","type":"quantitative","scale":{"domain":[0,100],"range":[504,689],"nice":false,"zero":false},"axis":null},"y":{"field":"b","type":"quantitative","scale":{"domain":[0.5,2.5],"range":[98,314],"nice":false,"zero":false},"axis":null},"x2":{"field":"x2"},"y2":{"field":"b2"}}},

{"data":{"values":[{"i":1,"row":0,"a0":0,"a1":360,"p":"inv"},{"i":2,"row":0,"a0":-3.6,"a1":3.6,"p":"vis"},{"i":2,"row":0,"a0":3.6,"a1":356.4,"p":"inv"},{"i":3,"row":0,"a0":-90,"a1":90,"p":"vis"},{"i":3,"row":0,"a0":90,"a1":270,"p":"inv"},{"i":4,"row":0,"a0":7.2,"a1":352.8,"p":"vis"},{"i":4,"row":0,"a0":-7.2,"a1":7.2,"p":"inv"},{"i":5,"row":0,"a0":0,"a1":360,"p":"vis2"}]},
"mark":{"type":"arc","radius":29,"stroke":"#3a3a3a","strokeWidth":1.5},
"encoding":{"x":{"field":"i","type":"quantitative","scale":{"domain":[1,5],"range":[445,697],"nice":false,"zero":false},"axis":null},
"y":{"field":"row","type":"quantitative","scale":{"domain":[-1,1],"range":[488,288],"nice":false,"zero":false},"axis":null},
"theta":{"field":"a0","type":"quantitative","stack":null,"scale":{"domain":[0,360],"range":[0,6.283185]}},
"theta2":{"field":"a1"},
"color":{"field":"p","type":"nominal","scale":{"domain":["vis","inv","vis2"],"range":["#f7f48e","#bdbdbd","#f5f05e"]},"legend":null}}},
{"data":{"values":[{"i":1,"r0":0,"r1":0.29},{"i":2,"r0":0,"r1":0.29},{"i":4,"r0":0,"r1":0.29},{"i":5,"r0":0,"r1":0.29}]},
"mark":{"type":"rule","color":"#222","strokeWidth":2.2},
"encoding":{"x":{"field":"i","type":"quantitative","scale":{"domain":[1,5],"range":[445,697],"nice":false,"zero":false},"axis":null},"y":{"field":"r0","type":"quantitative","scale":{"domain":[-1,1],"range":[488,288],"nice":false,"zero":false},"axis":null},"y2":{"field":"r1"}}},
{"data":{"values":[{"i":1,"row":-0.15,"t":"0%"},{"i":2,"row":-0.15,"t":"2%"},{"i":3,"row":0.14,"t":"50%"},{"i":3,"row":-0.15,"t":"50%"},{"i":4,"row":-0.15,"t":"96%"},{"i":5,"row":-0.15,"t":"100%"}]},
"mark":{"type":"text","fontSize":9,"color":"#7a7a60","align":"center","baseline":"middle"},
"encoding":{"x":{"field":"i","type":"quantitative","scale":{"domain":[1,5],"range":[445,697],"nice":false,"zero":false},"axis":null},"y":{"field":"row","type":"quantitative","scale":{"domain":[-1,1],"range":[488,288],"nice":false,"zero":false},"axis":null},"text":{"field":"t"}}},
{"data":{"values":[{"i":1,"row":-0.43,"t":"b=2.2"},{"i":2,"row":-0.43,"t":"b=1.7"},{"i":3,"row":-0.43,"t":"b=1.5"},{"i":4,"row":-0.43,"t":"b=1.3"},{"i":5,"row":-0.43,"t":"b=0.5"}]},
"mark":{"type":"text","fontSize":12.5,"fontWeight":"bold","color":"#222","align":"center","baseline":"middle"},
"encoding":{"x":{"field":"i","type":"quantitative","scale":{"domain":[1,5],"range":[445,697],"nice":false,"zero":false},"axis":null},"y":{"field":"row","type":"quantitative","scale":{"domain":[-1,1],"range":[488,288],"nice":false,"zero":false},"axis":null},"text":{"field":"t"}}}
]
}
